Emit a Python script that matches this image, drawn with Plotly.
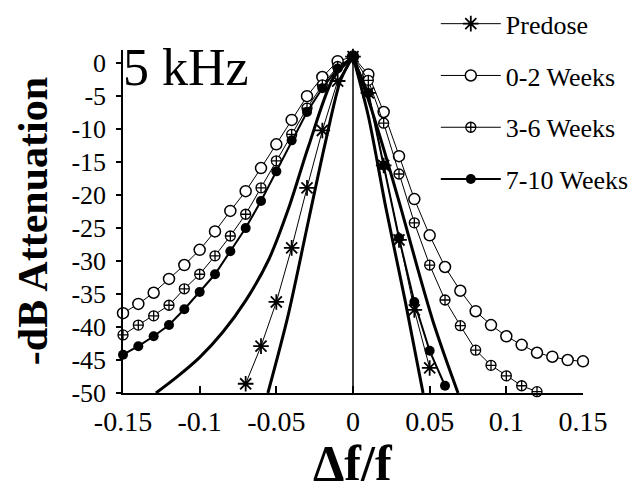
import plotly.graph_objects as go

# ---------------- data ----------------
predose_x = [-0.07, -0.06, -0.05, -0.04, -0.03, -0.02, -0.01, 0.0, 0.01, 0.02, 0.03, 0.04, 0.05]
predose_y = [-48.6, -42.9, -36.2, -28.0, -18.9, -10.2, -2.7, 1.0, -4.5, -15.5, -26.8, -37.4, -46.2]

wk02_x = [-0.15, -0.14, -0.13, -0.12, -0.11, -0.10, -0.09, -0.08, -0.07, -0.06, -0.05, -0.04, -0.03, -0.02, -0.01,
          0.0, 0.01, 0.02, 0.03, 0.04, 0.05, 0.06, 0.07, 0.08, 0.09, 0.10, 0.11, 0.12, 0.13, 0.14, 0.15]
wk02_y = [-37.9, -36.5, -34.8, -32.7, -30.6, -28.3, -25.5, -22.4, -19.4, -15.9, -12.3, -8.6, -5.0, -2.1, 0.3,
          1.0, -1.7, -7.4, -14.1, -20.6, -26.1, -30.9, -34.5, -37.6, -39.7, -41.4, -42.7, -43.9, -44.5, -45.0, -45.2]

wk36_x = [-0.15, -0.14, -0.13, -0.12, -0.11, -0.10, -0.09, -0.08, -0.07, -0.06, -0.05, -0.04, -0.03, -0.02, -0.01,
          0.0, 0.01, 0.02, 0.03, 0.04, 0.05, 0.06, 0.07, 0.08, 0.09, 0.10, 0.11, 0.12]
wk36_y = [-41.2, -39.7, -38.3, -36.7, -34.2, -32.0, -29.2, -26.2, -22.9, -18.9, -14.8, -10.8, -6.8, -3.3, -0.5,
          1.0, -2.6, -9.1, -16.8, -24.2, -30.6, -35.9, -39.8, -43.5, -45.8, -47.4, -48.9, -49.8]

wk710_x = [-0.15, -0.14, -0.13, -0.12, -0.11, -0.10, -0.09, -0.08, -0.07, -0.06, -0.05, -0.04, -0.03, -0.02, -0.01,
           0.0, 0.01, 0.02, 0.03, 0.04, 0.05, 0.06]
wk710_y = [-44.2, -42.9, -41.4, -39.7, -37.3, -34.7, -32.0, -28.5, -25.0, -20.9, -16.4, -11.7, -7.4, -3.8, -0.8,
           1.0, -4.5, -15.5, -26.5, -36.2, -43.6, -48.9]

# thick fitted curves (no markers)
fitL1_x = [-0.1285, -0.115, -0.10, -0.085, -0.07, -0.055, -0.042, -0.029, -0.013, 0.0]
fitL1_y = [-50.0, -47.6, -44.6, -40.8, -36.0, -29.8, -22.0, -12.6, -2.3, 1.0]
fitL2_x = [-0.0555, -0.0424, -0.0287, -0.018, -0.008, 0.0]
fitL2_y = [-50.0, -38.3, -23.5, -12.0, -2.5, 1.0]
fitR1_x = [0.0, 0.01, 0.0215, 0.034, 0.0457]
fitR1_y = [1.0, -8.0, -22.0, -36.0, -50.0]
fitR2_x = [0.0, 0.01, 0.02, 0.0313, 0.042, 0.052, 0.06, 0.0685]
fitR2_y = [1.0, -5.5, -13.0, -22.0, -31.0, -39.0, -44.5, -50.0]

x_ticks = [-0.15, -0.1, -0.05, 0, 0.05, 0.1, 0.15]
x_tick_labels = ["-0.15", "-0.1", "-0.05", "0", "0.05", "0.1", "0.15"]
y_ticks = [0, -5, -10, -15, -20, -25, -30, -35, -40, -45, -50]
y_tick_labels = ["0", "-5", "-10", "-15", "-20", "-25", "-30", "-35", "-40", "-45", "-50"]

FONT = "Liberation Serif"

fig = go.Figure()

for fx, fy in [(fitL1_x, fitL1_y), (fitL2_x, fitL2_y), (fitR1_x, fitR1_y), (fitR2_x, fitR2_y)]:
    fig.add_trace(go.Scatter(x=fx, y=fy, mode="lines", line=dict(color="black", width=3, shape="spline", smoothing=0.8),
                             showlegend=False, hoverinfo="skip"))

fig.add_trace(go.Scatter(x=predose_x, y=predose_y, mode="lines+markers", name="Predose", legendgroup="a",
                         line=dict(color="black", width=1),
                         marker=dict(symbol="asterisk-open", size=13, line=dict(color="black", width=1.8)),
                         cliponaxis=False))
fig.add_trace(go.Scatter(x=wk02_x, y=wk02_y, mode="lines+markers", name="0-2 Weeks", legendgroup="b",
                         line=dict(color="black", width=1),
                         marker=dict(symbol="circle", size=11, color="white", line=dict(color="black", width=1.5)),
                         cliponaxis=False))
fig.add_trace(go.Scatter(x=wk36_x, y=wk36_y, mode="lines+markers", name="3-6 Weeks", legendgroup="c",
                         line=dict(color="black", width=1),
                         marker=dict(symbol="circle-cross", size=10, color="white", line=dict(color="black", width=1.3)),
                         cliponaxis=False))
fig.add_trace(go.Scatter(x=wk710_x, y=wk710_y, mode="lines+markers", name="7-10 Weeks", legendgroup="d",
                         line=dict(color="black", width=2),
                         marker=dict(symbol="circle", size=10, color="black"),
                         cliponaxis=False))

# vertical reference line at zero
fig.add_shape(type="line", xref="x", yref="y", x0=0, x1=0, y0=-50, y1=1, line=dict(color="black", width=1.5))

fig.add_annotation(text="5 kHz", xref="paper", yref="paper", x=-0.005, y=0.948, xanchor="left", yanchor="middle",
                   showarrow=False, font=dict(family=FONT, size=52, color="black"))
fig.add_annotation(text="<b>Δf/f</b>", xref="paper", yref="paper", x=0.5, y=-0.203, xanchor="center", yanchor="middle",
                   showarrow=False, font=dict(family=FONT, size=50, color="black"))
fig.add_annotation(text="<b>-dB Attenuation</b>", xref="paper", yref="paper", x=-0.197, y=0.502, xanchor="center",
                   yanchor="middle", textangle=-90, showarrow=False, font=dict(family=FONT, size=42, color="black"))

fig.update_layout(
    width=639, height=489,
    margin=dict(l=115, r=64, t=42, b=104, autoexpand=False),
    paper_bgcolor="white", plot_bgcolor="white",
    font=dict(family=FONT, size=26, color="black"),
    legend=dict(x=0.68, y=1.145, xanchor="left", yanchor="top", bgcolor="rgba(0,0,0,0)",
                font=dict(family=FONT, size=26, color="black"), tracegroupgap=15, itemwidth=60),
)
fig.update_xaxes(range=[-0.15, 0.15], tickvals=x_ticks, ticktext=x_tick_labels, showgrid=False, zeroline=False,
                 showline=True, linecolor="black", linewidth=1.5, ticks="inside", ticklen=7, tickwidth=1.5,
                 tickcolor="black", ticklabelstandoff=3, tickfont=dict(family=FONT, size=28, color="black"))
fig.update_yaxes(range=[-50, 2], tickvals=y_ticks, ticktext=y_tick_labels, showgrid=False, zeroline=False,
                 showline=True, linecolor="black", linewidth=1.5, ticks="outside", ticklen=5, tickwidth=1.5,
                 tickcolor="black", ticklabelstandoff=5, tickfont=dict(family=FONT, size=26, color="black"))

fig.write_html("out.html")
